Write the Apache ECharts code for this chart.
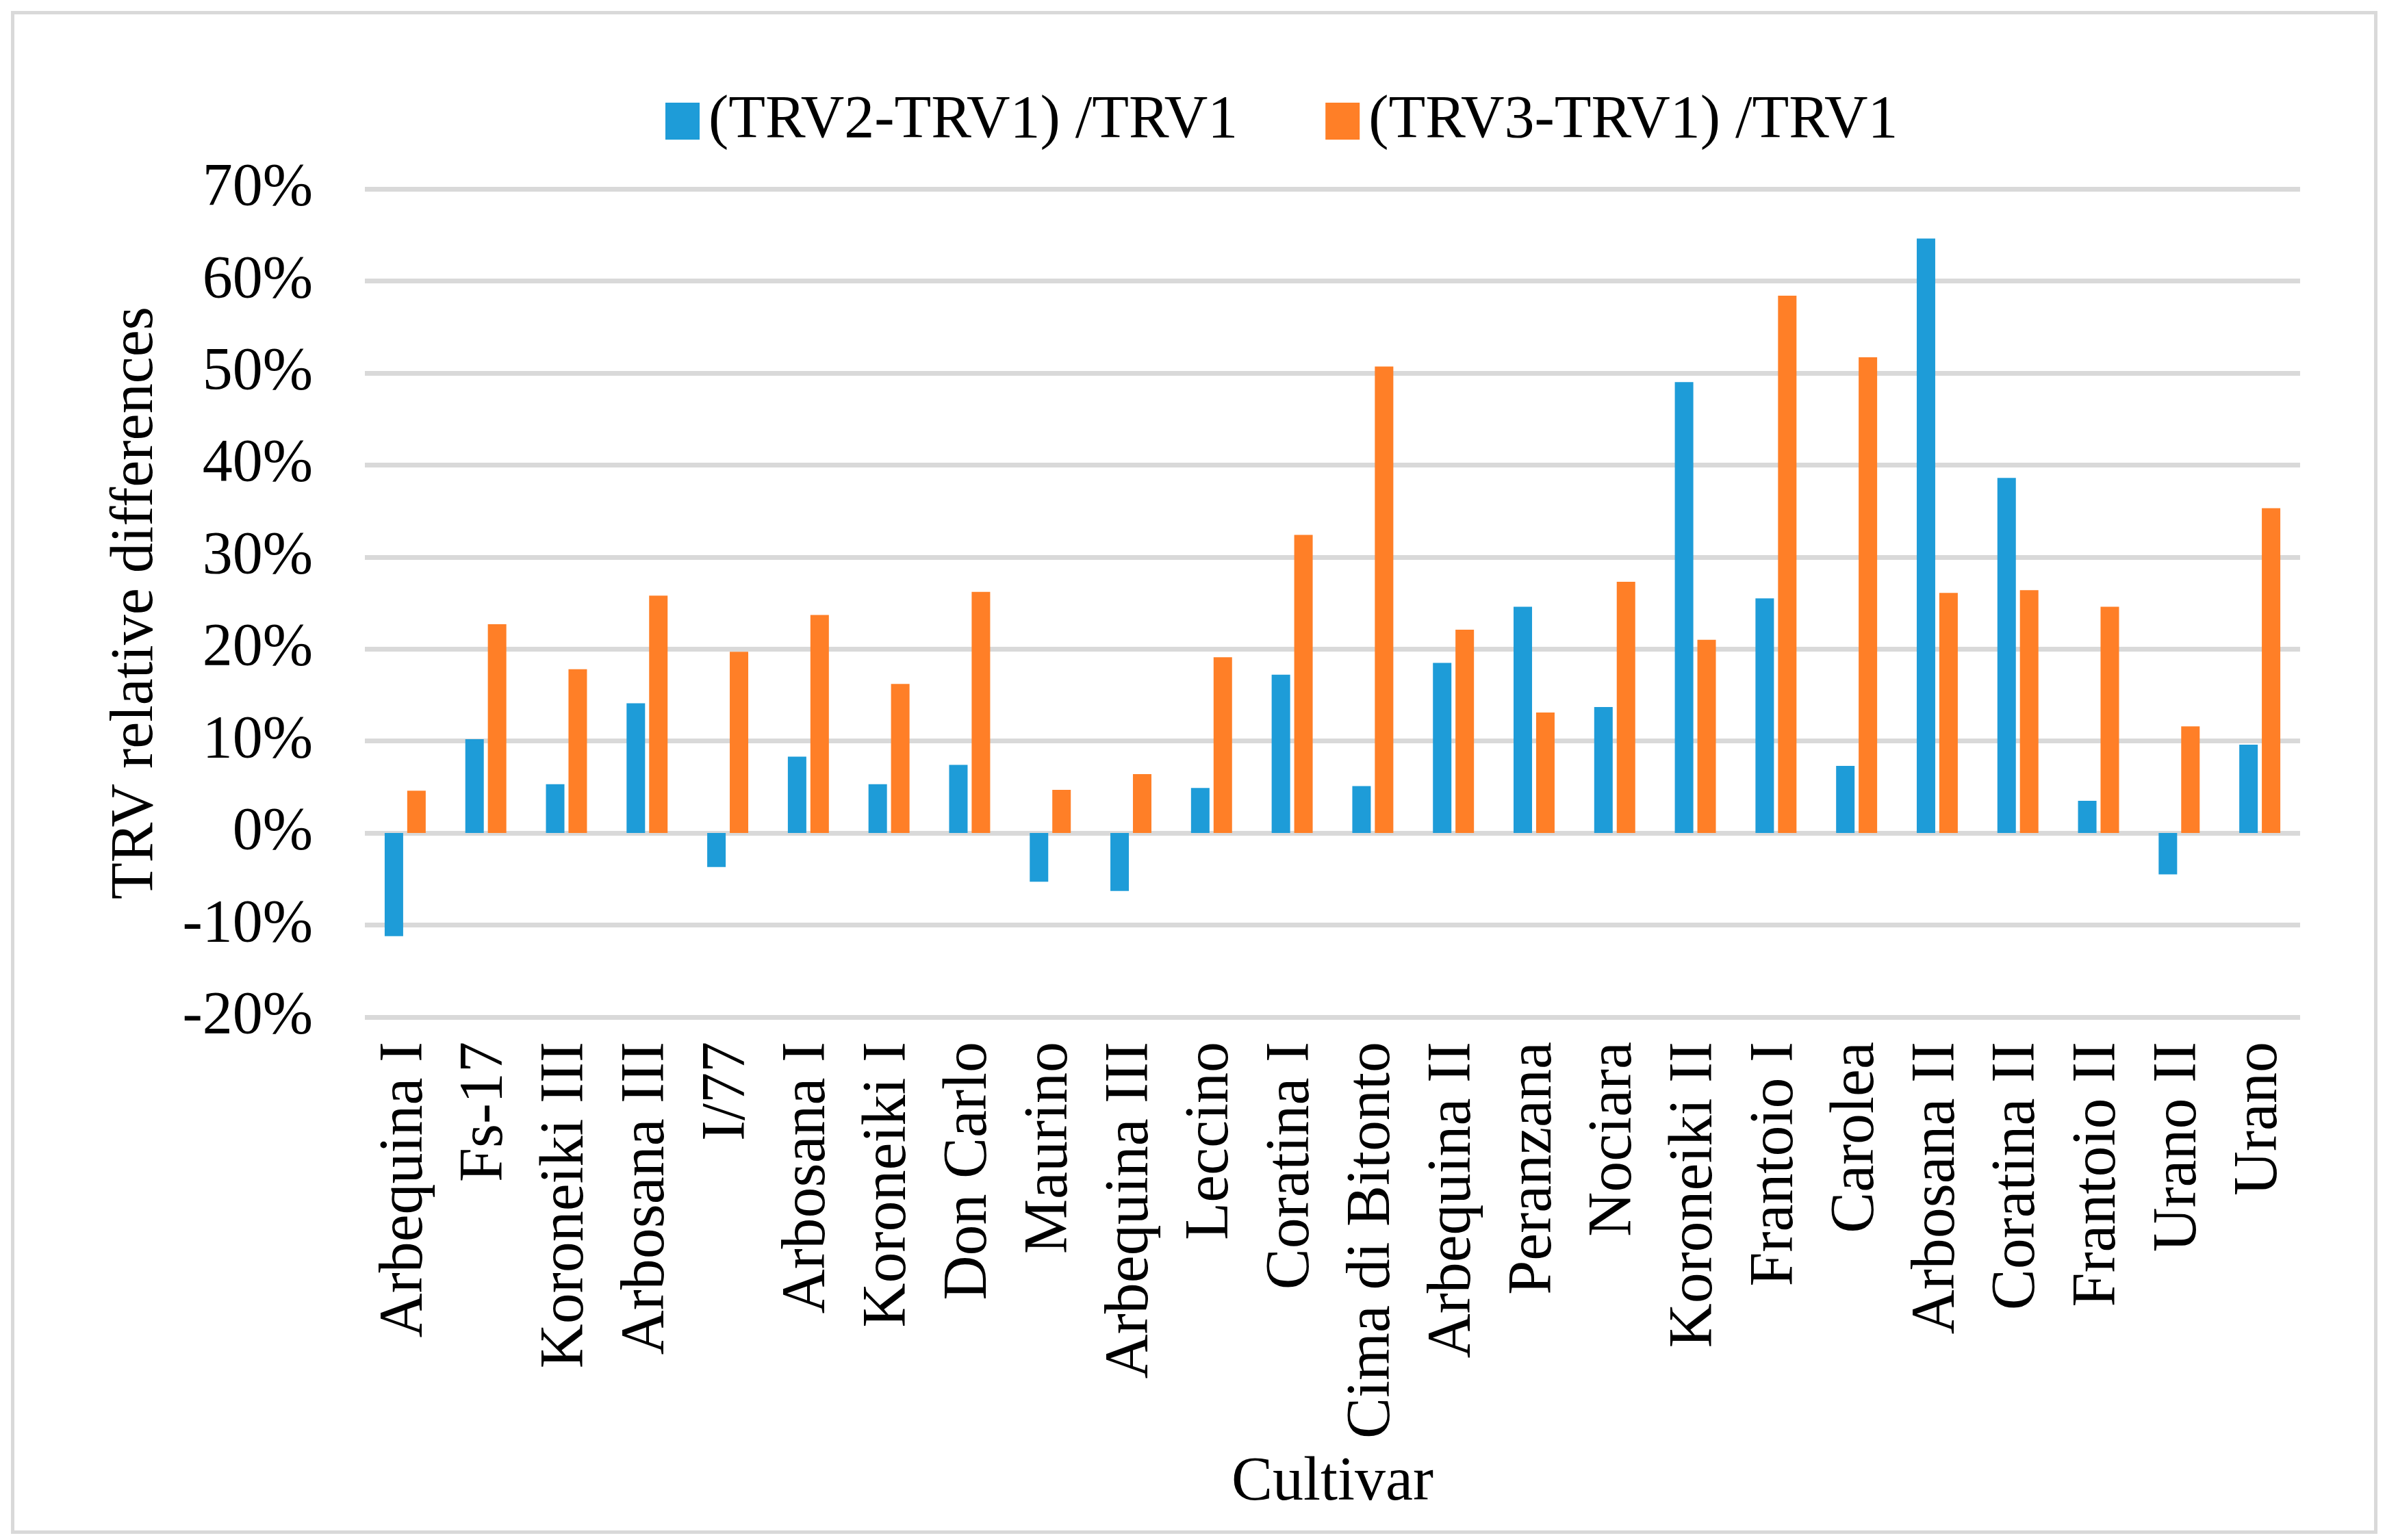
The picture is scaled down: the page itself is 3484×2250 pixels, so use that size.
<!DOCTYPE html>
<html>
<head>
<meta charset="utf-8">
<script src="https://cdn.jsdelivr.net/npm/echarts@6/dist/echarts.min.js"></script>
<style>
html,body{margin:0;padding:0;background:#fff;}
#chart{width:3484px;height:2250px;}
</style>
</head>
<body>
<div id="chart"></div>
<script>
const categories = ["Arbequina I","Fs-17","Koroneiki III","Arbosana III","I/77","Arbosana I","Koroneiki I","Don Carlo","Maurino","Arbequina III","Leccino","Coratina I","Cima di Bitonto","Arbequina II","Peranzana","Nociara","Koroneiki II","Frantoio I","Carolea","Arbosana II","Coratina II","Frantoio II","Urano II","Urano"];
const seriesNames = ["(TRV2-TRV1) /TRV1","(TRV3-TRV1) /TRV1"];
const trv2 = [-11.2,10.2,5.3,14.1,-3.7,8.3,5.3,7.4,-5.3,-6.3,4.9,17.2,5.1,18.5,24.6,13.7,49.0,25.5,7.3,64.6,38.6,3.5,-4.5,9.6];
const trv3 = [4.6,22.7,17.8,25.8,19.7,23.7,16.2,26.2,4.7,6.4,19.1,32.4,50.7,22.1,13.1,27.3,21.0,58.4,51.7,26.1,26.4,24.6,11.6,35.3];
const yMin = -20, yMax = 70, yStep = 10;

const font = 'Liberation Serif';
const chart = echarts.init(document.getElementById('chart'), null, {renderer:'canvas'});
chart.setOption({
  backgroundColor:'#ffffff',
  animation:false,
  graphic:[{
    type:'rect', left:16, top:16, shape:{width:3452, height:2220},
    style:{fill:'none', stroke:'#d9d9d9', lineWidth:5}, z:-1
  }],
  legend:{
    left:967, top:128,
    itemWidth:50, itemHeight:54, itemGap:128,
    icon:'rect',
    textStyle:{fontFamily:font, fontSize:88, color:'#000', padding:[0,0,0,8]},
    data:seriesNames
  },
  grid:{left:533, right:124, top:276, bottom:764, containLabel:false},
  xAxis:{
    type:'category', data:categories,
    name:'Cultivar', nameLocation:'middle', nameGap:636,
    nameTextStyle:{fontFamily:font, fontSize:90, color:'#000'},
    axisLine:{show:false, onZero:false},
    axisTick:{show:false},
    axisLabel:{rotate:90, interval:0, margin:36, fontFamily:font, fontSize:90, color:'#000'}
  },
  yAxis:{
    type:'value', min:yMin, max:yMax, interval:yStep,
    name:'TRV relative differences', nameLocation:'middle', nameGap:290,
    nameTextStyle:{fontFamily:font, fontSize:88, color:'#000'},
    axisLine:{show:false}, axisTick:{show:false},
    axisLabel:{formatter:'{value}%', margin:76, fontFamily:font, fontSize:88, color:'#000'},
    splitLine:{lineStyle:{color:'#d9d9d9', width:7}}
  },
  series:[
    {name:seriesNames[0], type:'bar', data:trv2, barWidth:27, barGap:'22%', itemStyle:{color:'#1e9cd8'}},
    {name:seriesNames[1], type:'bar', data:trv3, barWidth:27, barGap:'22%', itemStyle:{color:'#ff7f27'}}
  ]
});
</script>
</body>
</html>
